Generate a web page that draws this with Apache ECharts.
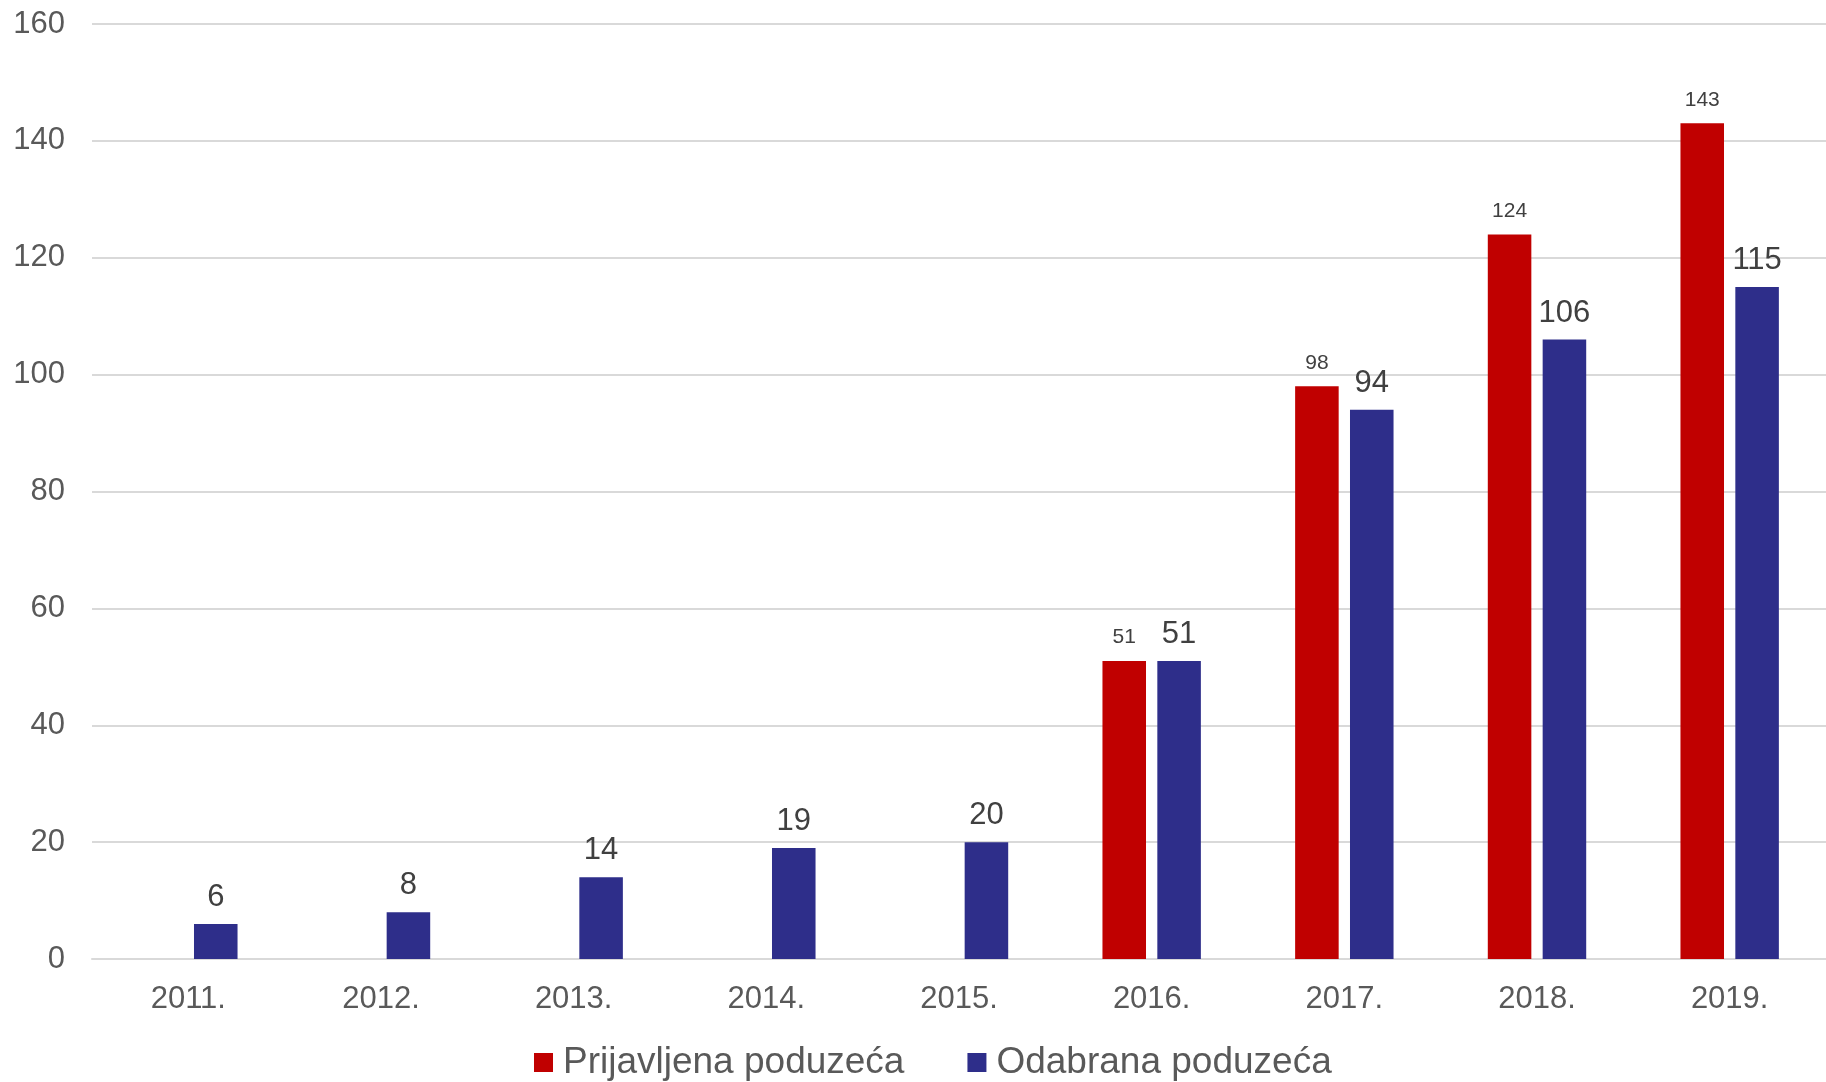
<!DOCTYPE html>
<html>
<head>
<meta charset="utf-8">
<script src="https://cdn.jsdelivr.net/npm/echarts@6/dist/echarts.min.js"></script>
<style>
html,body{margin:0;padding:0;background:#fff;}
#chart{width:1826px;height:1082px;}
</style>
</head>
<body>
<div id="chart"></div>
<script>
const categories = ['2011.', '2012.', '2013.', '2014.', '2015.', '2016.', '2017.', '2018.', '2019.'];
const prijavljena = [null, null, null, null, null, 51, 98, 124, 143];
const odabrana = [6, 8, 14, 19, 20, 51, 94, 106, 115];
const seriesNames = ['Prijavljena poduzeća', 'Odabrana poduzeća'];

const chart = echarts.init(document.getElementById('chart'));
const font = '"Liberation Sans", Arial, sans-serif';
chart.setOption({
  animation: false,
  backgroundColor: '#ffffff',
  textStyle: { fontFamily: font },
  grid: { left: 92, width: 1740, top: 24, bottom: 123, containLabel: false },
  legend: {
    data: seriesNames,
    left: 534,
    top: 1044,
    padding: 0,
    itemWidth: 19,
    itemHeight: 19,
    itemGap: 63,
    icon: 'rect',
    textStyle: { fontSize: 37, color: '#595959', fontFamily: font, padding: [0, 0, 0, 5] }
  },
  xAxis: {
    type: 'category',
    data: categories,
    axisLine: { show: true, lineStyle: { color: '#D9D9D9', width: 2 } },
    axisTick: { show: false },
    axisLabel: { fontSize: 31, color: '#595959', margin: 25, fontFamily: font }
  },
  yAxis: {
    type: 'value',
    min: 0,
    max: 160,
    interval: 20,
    axisLine: { show: false },
    axisTick: { show: false },
    splitLine: { lineStyle: { color: '#D9D9D9', width: 2 } },
    axisLabel: { fontSize: 31, color: '#595959', margin: 27, fontFamily: font }
  },
  series: [
    {
      name: seriesNames[0],
      type: 'bar',
      data: prijavljena,
      barWidth: '22.6%',
      barGap: '26%',
      itemStyle: { color: '#C00000' },
      label: { show: true, position: 'top', distance: 13, fontSize: 21, color: '#404040', fontFamily: font }
    },
    {
      name: seriesNames[1],
      type: 'bar',
      data: odabrana,
      barWidth: '22.6%',
      barGap: '26%',
      itemStyle: { color: '#2E2E8A' },
      label: { show: true, position: 'top', distance: 11, fontSize: 31, color: '#404040', fontFamily: font }
    }
  ]
});
</script>
</body>
</html>
